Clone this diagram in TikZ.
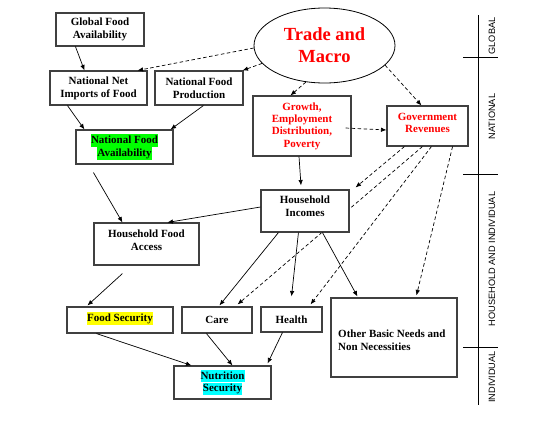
\documentclass[tikz,border=0pt]{standalone}
\usepackage{fontspec}
\setmainfont{Liberation Serif}
\newfontfamily\arialf{Liberation Sans}
\usetikzlibrary{arrows.meta,shapes.geometric}
\definecolor{hlgreen}{HTML}{00FF00}
\definecolor{hlyellow}{HTML}{FFFF00}
\definecolor{hlcyan}{HTML}{00FFFF}
\definecolor{boxline}{HTML}{404040}
\newcommand\hlt[2]{{\setlength{\fboxsep}{0pt}\colorbox{#1}{\rule[-3.3pt]{0pt}{12.6pt}#2}}}
\tikzset{
 box/.style={draw=boxline, line width=1.1pt, fill=white, inner sep=0pt},
 txt/.style={font=\bfseries\fontsize{11}{12.7}\selectfont, align=center, inner sep=0pt},
 redtxt/.style={txt, text=red},
 arr/.style={line width=0.7pt, -{Latex[length=5.5pt,width=4.5pt]}},
 darr/.style={arr, dash pattern=on 3.5pt off 2.5pt},
 lvl/.style={font=\arialf\fontsize{9.2}{11}\selectfont, rotate=90, inner sep=0pt},
 rulel/.style={line width=0.8pt}
}
\begin{document}
\begin{tikzpicture}[x=1pt,y=-1pt]
\useasboundingbox[fill=white] (0,0) rectangle (545,421);

% boxes
\node[box,txt,minimum width=88,minimum height=33] (gfa) at (100,29.5) {Global Food\\Availability};
\node[box,txt,minimum width=97,minimum height=34] (nni) at (98.5,88) {National Net\\Imports of Food};
\node[box,txt,minimum width=88,minimum height=34] (nfp) at (199,88) {National Food\\Production};
\node[box,txt,minimum width=97,minimum height=34] (nfa) at (124.5,147) {\hlt{hlgreen}{National Food}\\\hlt{hlgreen}{Availability}};
\node[ellipse,draw,line width=0.8pt,fill=white,minimum width=141,minimum height=75,inner sep=0pt,text=red,font=\bfseries\fontsize{18.5}{22}\selectfont,align=center] (tm) at (324.5,45.5) {Trade and\\Macro};
\node[box,redtxt,font=\bfseries\fontsize{11}{12.3}\selectfont,minimum width=98,minimum height=60] (gro) at (302,126) {Growth,\\Employment\\Distribution,\\Poverty};
\node[box,minimum width=81,minimum height=40] (gov) at (427.5,126) {};
\node[redtxt] (govt) at ([yshift=3pt]gov.center) {Government\\Revenues};
\node[box,minimum width=105,minimum height=42] (hfa) at (146.5,244) {};
\node[txt] (hfat) at ([yshift=4pt]hfa.center) {Household Food\\Access};
\node[box,minimum width=106,minimum height=26] (fs) at (120,320) {};
\node[txt] (fst) at ([yshift=1.5pt]fs.center) {\hlt{hlyellow}{Food Security}};
\node[box,txt,minimum width=70,minimum height=26] (care) at (217,320) {Care};
\node[box,txt,minimum width=61,minimum height=25] (hea) at (291.5,319.5) {Health};
\node[box,minimum width=126,minimum height=79] (oth) at (394,337.5) {};
\node[txt,align=left,anchor=west] (otht) at (338,340) {Other Basic Needs and\\Non Necessities};
\node[box,minimum width=97,minimum height=33] (ns) at (222.5,382.5) {};
\node[txt] (nst) at (ns.center) {\hlt{hlcyan}{Nutrition}\\\hlt{hlcyan}{Security}};

% dashed line passing behind household incomes
\draw[darr] ([xshift=36pt]gov.south west) -- ([xshift=-15pt,yshift=2pt]care.north east);

\node[box,minimum width=88,minimum height=42] (hi) at (305,211) {};
\node[txt] (hit) at ([yshift=5pt]hi.center) {Household\\Incomes};

% connectors
\draw[arr] ([xshift=20pt]gfa.south west) -- ([xshift=35pt]nni.north west);
\draw[arr] ([xshift=18pt]nni.south west) -- ([xshift=9pt]nfa.north west);
\draw[arr] ([xshift=49pt]nfp.south west) -- ([xshift=-3pt]nfa.north east);
\draw[darr] (tm.182) -- ([xshift=-10pt]nni.north east);
\draw[darr] (tm.196) -- ([xshift=-1pt]nfp.north east);
\draw[darr] (tm.243) -- ([xshift=38pt]gro.north west);
\draw[darr] (tm.342) -- ([xshift=35pt]gov.north west);
\draw[darr] ([xshift=-6pt,yshift=-2pt]gro.east) -- ([yshift=-4pt]gov.west);
\draw[arr] ([xshift=-3pt]gro.south) -- ([xshift=-4pt,yshift=4pt]hi.north);
\draw[darr] ([xshift=18pt]gov.south west) -- ([xshift=6pt,yshift=2pt]hi.north east);
\draw[darr] ([xshift=45pt]gov.south west) -- ([xshift=-12pt,yshift=2pt]hea.north east);
\draw[darr] ([xshift=-16pt]gov.south east) -- ([xshift=86pt,yshift=2pt]oth.north west);
\draw[arr] ([yshift=4pt]hi.west) -- ([xshift=74pt]hfa.north west);
\draw[arr] ([xshift=18pt,yshift=-8pt]nfa.south west) -- ([xshift=29pt]hfa.north west);
\draw[arr] ([xshift=29pt,yshift=-8pt]hfa.south west) -- ([xshift=21pt,yshift=1pt]fs.north west);
\draw[arr] ([xshift=18pt]hi.south west) -- ([xshift=38pt,yshift=1pt]care.north west);
\draw[arr] ([xshift=38pt]hi.south west) -- ([yshift=10pt]hea.north);
\draw[arr] ([xshift=62pt]hi.south west) -- ([xshift=27pt,yshift=1pt]oth.north west);
\draw[arr] ([xshift=30pt]fs.south west) -- ([xshift=18pt]ns.north west);
\draw[arr] ([xshift=25pt]care.south west) -- ([xshift=59pt]ns.north west);
\draw[arr] ([xshift=22pt]hea.south west) -- ([xshift=-4pt,yshift=2pt]ns.north east);

% level scale
\coordinate (vt) at (478,15);
\coordinate (vb) at (478,405);
\draw[rulel] (vt) -- (vb);
\coordinate (h1a) at (463,57);  \coordinate (h1b) at (498,57);
\coordinate (h2a) at (463,174); \coordinate (h2b) at (498,174);
\coordinate (h3a) at (463,347); \coordinate (h3b) at (498,347);
\draw[rulel] (h1a) -- (h1b);
\draw[rulel] (h2a) -- (h2b);
\draw[rulel] (h3a) -- (h3b);
\node[lvl] (lg) at (492,36) {GLOBAL};
\node[lvl] (ln) at (492,116.5) {NATIONAL};
\node[lvl] (lh) at (492,259) {HOUSEHOLD AND INDIVIDUAL};
\node[lvl] (li) at (492,377) {INDIVIDUAL};
\end{tikzpicture}
\end{document}
